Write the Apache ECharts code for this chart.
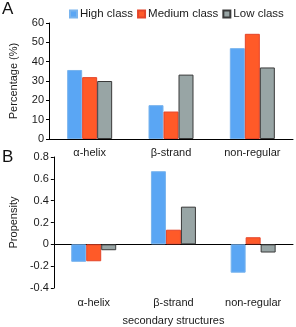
<!DOCTYPE html>
<html><head><meta charset="utf-8">
<script src="https://cdn.jsdelivr.net/npm/echarts@6/dist/echarts.min.js"></script>
<style>html,body{margin:0;padding:0;background:#fff}#c{width:296px;height:327px}</style>
</head><body><div id="c"></div>
<script>
const categories = ['α-helix', 'β-strand', 'non-regular'];
const seriesNames = ['High class', 'Medium class', 'Low class'];
const pctHigh = [35.7, 17.5, 47];
const pctMedium = [32, 14.2, 54.4];
const pctLow = [30, 33.3, 37];
const propHigh = [-0.16, 0.67, -0.26];
const propMedium = [-0.155, 0.134, 0.065];
const propLow = [-0.054, 0.345, -0.075];
const pctTicks = {min: 0, max: 60, interval: 10};
const propTicks = {min: -0.4, max: 0.8, interval: 0.2};

const fills = ['#5aa6f4', '#ff5a28', '#98a5a5'];
const borders = ['#79b4ee', '#e4452a', '#3a3a3a'];
const FONT = 'Liberation Sans, Arial, sans-serif';
const txt = '#1a1a1a';

const chart = echarts.init(document.getElementById('c'));
function yAx(grid, t, name) {
  return {
    type: 'value', gridIndex: grid, min: t.min, max: t.max, interval: t.interval,
    name: name, nameLocation: 'middle', nameGap: 30,
    nameTextStyle: {fontSize: 11, color: txt, fontFamily: FONT},
    axisLine: {show: true, lineStyle: {color: '#000', width: 1}},
    axisTick: {show: true, length: 3, lineStyle: {color: '#000'}},
    axisLabel: {fontSize: 11, color: txt, fontFamily: FONT, margin: 5,
      formatter: v => String(Math.round(v * 10) / 10)},
    splitLine: {show: false}
  };
}
const dataSets = [[pctHigh, pctMedium, pctLow], [propHigh, propMedium, propLow]];
const series = [];
for (let g = 0; g < 2; g++) {
  for (let i = 0; i < 3; i++) {
    series.push({
      type: 'bar', name: seriesNames[i], xAxisIndex: g, yAxisIndex: g,
      data: dataSets[g][i], barWidth: 15, barGap: '0%',
      itemStyle: {color: fills[i], borderColor: borders[i], borderWidth: 1}
    });
  }
}
chart.setOption({
  animation: false,
  textStyle: {fontFamily: FONT},
  legend: {
    data: seriesNames, left: 64, top: 3, itemWidth: 7, itemHeight: 7, itemGap: 4,
    icon: 'rect',
    textStyle: {fontSize: 11.5, color: txt, fontFamily: FONT, padding: [0, 0, 0, -2]}
  },
  graphic: [
    {type: 'text', left: 2, top: 1, style: {text: 'A', fontSize: 17, fill: '#111', fontFamily: FONT}},
    {type: 'text', left: 2, top: 149, style: {text: 'B', fontSize: 17, fill: '#111', fontFamily: FONT}}
  ],
  grid: [
    {left: 40, right: 3, top: 23, height: 116},
    {left: 40, right: 3, top: 157, height: 134}
  ],
  xAxis: [
    {type: 'category', gridIndex: 0, data: categories,
      axisLine: {lineStyle: {color: '#000'}}, axisTick: {show: false},
      axisLabel: {fontSize: 11, color: txt, fontFamily: FONT, margin: 8}},
    {type: 'category', gridIndex: 1, data: categories,
      axisLine: {show: false, onZero: false}, axisTick: {show: false},
      name: 'secondary structures', nameLocation: 'middle', nameGap: 27,
      nameTextStyle: {fontSize: 11, color: txt, fontFamily: FONT},
      axisLabel: {fontSize: 11, color: txt, fontFamily: FONT, margin: 9}},
    {type: 'category', gridIndex: 1, data: categories, position: 'bottom',
      axisLine: {show: true, onZero: true, lineStyle: {color: '#000'}},
      axisTick: {show: false}, axisLabel: {show: false}}
  ],
  yAxis: [yAx(0, pctTicks, 'Percentage (%)'), yAx(1, propTicks, 'Propensity')],
  series: series
});
</script></body></html>
